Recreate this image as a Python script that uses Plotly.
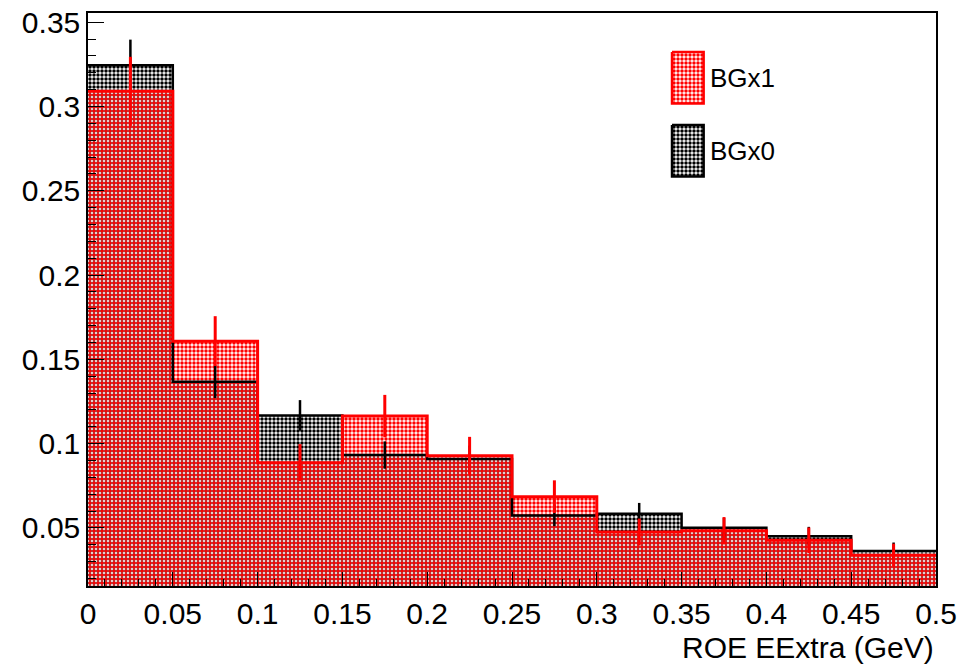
import plotly.graph_objects as go

# Bin edges of the ROE EExtra histograms (GeV)
bin_edges = [0.0, 0.05, 0.1, 0.15, 0.2, 0.25, 0.3, 0.35, 0.4, 0.45, 0.5]
bin_centers = [0.025, 0.075, 0.125, 0.175, 0.225, 0.275, 0.325, 0.375, 0.425, 0.475]

# Normalised contents and statistical errors
bgx0_vals = [0.3245, 0.1367, 0.1167, 0.0932, 0.0908, 0.0574, 0.0584, 0.0500, 0.0450, 0.0362]
bgx0_errs = [0.0152, 0.0097, 0.0091, 0.0081, 0.0080, 0.0064, 0.0064, 0.0059, 0.0056, 0.0051]
bgx1_vals = [0.3090, 0.1608, 0.0887, 0.1163, 0.0928, 0.0685, 0.0475, 0.0483, 0.0426, 0.0338]
bgx1_errs = [0.0205, 0.0148, 0.0110, 0.0126, 0.0112, 0.0097, 0.0080, 0.0081, 0.0076, 0.0068]

x_tickvals = [0, 0.05, 0.1, 0.15, 0.2, 0.25, 0.3, 0.35, 0.4, 0.45, 0.5]
x_ticktext = ["0", "0.05", "0.1", "0.15", "0.2", "0.25", "0.3", "0.35", "0.4", "0.45", "0.5"]
y_tickvals = [0.05, 0.1, 0.15, 0.2, 0.25, 0.3, 0.35]
y_ticktext = ["0.05", "0.1", "0.15", "0.2", "0.25", "0.3", "0.35"]

series_names = ["BGx1", "BGx0"]

RED = "#ff0000"
BLACK = "#000000"
FONT = "Liberation Sans, Arial, Helvetica, sans-serif"
PAT_SIZE = 4
PAT_SOLID = 0.6


def step_xy(vals):
    xs = list(bin_edges)
    ys = list(vals) + [vals[-1]]
    return xs, ys


fig = go.Figure()

# BGx0 filled histogram (drawn first)
fig.add_trace(go.Bar(
    x=bin_centers, y=bgx0_vals, width=0.05,
    marker=dict(color="rgba(0,0,0,0)", line=dict(width=0),
                pattern=dict(shape=".", fgcolor=BLACK, bgcolor="white",
                             size=PAT_SIZE, solidity=PAT_SOLID, fillmode="replace")),
    showlegend=False, hoverinfo="skip",
))
sx, sy = step_xy(bgx0_vals)
fig.add_trace(go.Scatter(x=sx, y=sy, mode="lines", line=dict(color=BLACK, width=2.5, shape="hv"),
                         showlegend=False, hoverinfo="skip"))
fig.add_trace(go.Scatter(
    x=bin_centers, y=bgx0_vals, mode="markers", marker=dict(size=1, color=BLACK, opacity=0),
    error_y=dict(type="data", array=bgx0_errs, color=BLACK, thickness=2.5, width=0),
    showlegend=False, hoverinfo="skip",
))

# BGx1 filled histogram on top, with transparent pattern background
fig.add_trace(go.Bar(
    x=bin_centers, y=bgx1_vals, width=0.05,
    marker=dict(color="rgba(0,0,0,0)", line=dict(width=0),
                pattern=dict(shape=".", fgcolor=RED, bgcolor="rgba(0,0,0,0)",
                             size=PAT_SIZE, solidity=PAT_SOLID, fillmode="replace")),
    showlegend=False, hoverinfo="skip",
))
sx, sy = step_xy(bgx1_vals)
fig.add_trace(go.Scatter(x=sx, y=sy, mode="lines", line=dict(color=RED, width=3, shape="hv"),
                         showlegend=False, hoverinfo="skip"))
fig.add_trace(go.Scatter(
    x=bin_centers, y=bgx1_vals, mode="markers", marker=dict(size=1, color=RED, opacity=0),
    error_y=dict(type="data", array=bgx1_errs, color=RED, thickness=3, width=0),
    showlegend=False, hoverinfo="skip",
))

# Legend swatches on an overlay axis spanning the plot area
swatches = [
    (series_names[0], RED, 0.932),
    (series_names[1], BLACK, 0.8045),
]
sw_x0, sw_x1, sw_h = 0.6887, 0.726, 0.09
for name, col, ytop in swatches:
    fig.add_trace(go.Scatter(
        x=[sw_x0, sw_x1, sw_x1, sw_x0, sw_x0],
        y=[ytop, ytop, ytop - sw_h, ytop - sw_h, ytop],
        mode="lines", fill="toself",
        fillpattern=dict(shape=".", fgcolor=col, bgcolor="white", size=PAT_SIZE,
                         solidity=PAT_SOLID, fillmode="replace"),
        line=dict(color=col, width=2.5),
        xaxis="x2", yaxis="y2", showlegend=False, hoverinfo="skip",
    ))
    fig.add_annotation(x=sw_x1 + 0.005, y=ytop - sw_h / 2, xref="x2", yref="y2", text=name,
                       showarrow=False, xanchor="left", yanchor="middle",
                       font=dict(family=FONT, size=26, color="black"))

fig.add_annotation(x=1.0, y=-0.1065, xref="paper", yref="paper", text="ROE EExtra (GeV)",
                   showarrow=False, xanchor="right", yanchor="middle",
                   font=dict(family=FONT, size=30, color="black"))

axis_common = dict(
    showgrid=False, zeroline=False, showline=True, linecolor="black", linewidth=1.5,
    mirror=True, ticks="inside", tickcolor="black", tickwidth=1.2, automargin=False,
    tickfont=dict(family=FONT, size=30, color="black"),
)

fig.update_layout(
    width=964, height=664,
    margin=dict(l=88, r=28, t=13, b=78),
    paper_bgcolor="white", plot_bgcolor="white",
    barmode="overlay", bargap=0,
    xaxis=dict(range=[0, 0.5], tickvals=x_tickvals, ticktext=x_ticktext, ticklen=14,
               minor=dict(ticks="inside", ticklen=7, dtick=0.01, tickcolor="black", tickwidth=1),
               **axis_common),
    yaxis=dict(range=[0.0155, 0.3555], tickvals=y_tickvals, ticktext=y_ticktext, ticklen=16,
               minor=dict(ticks="inside", ticklen=8, dtick=0.01, tick0=0, tickcolor="black",
                          tickwidth=1),
               **axis_common),
    xaxis2=dict(range=[0, 1], overlaying="x", visible=False, fixedrange=True),
    yaxis2=dict(range=[0, 1], overlaying="y", visible=False, fixedrange=True),
    showlegend=False,
)

fig.write_html("out.html")
